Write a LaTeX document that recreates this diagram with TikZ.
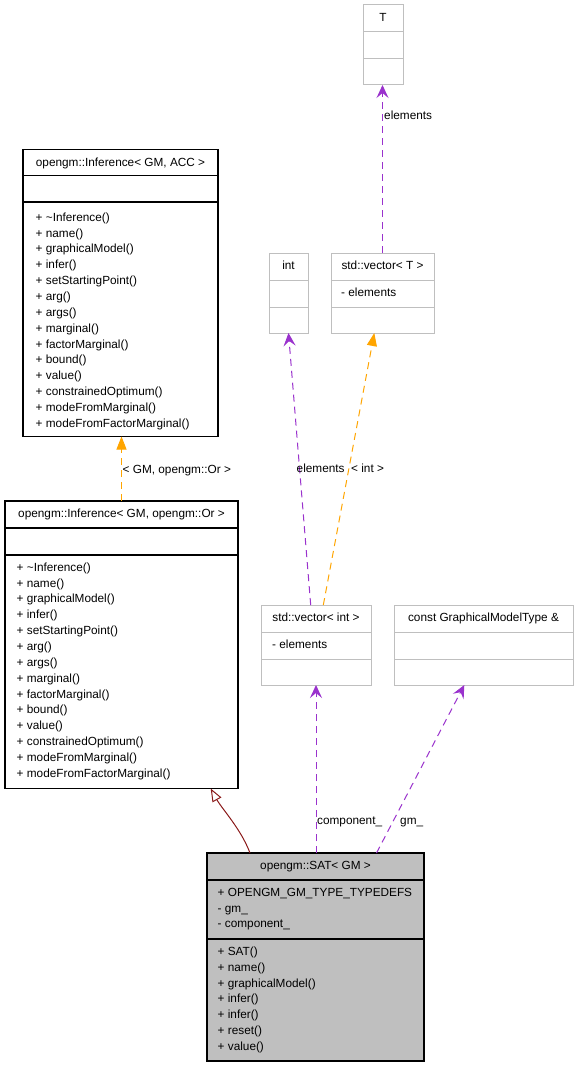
\documentclass[tikz,border=0pt]{standalone}
\usepackage{fontspec}
\setmainfont{Liberation Sans}
\usetikzlibrary{arrows.meta}
\definecolor{gbord}{HTML}{BFBFBF}
\definecolor{satfill}{HTML}{BFBFBF}
\definecolor{usepurple}{HTML}{9A32CD}
\definecolor{tmplorange}{HTML}{FFA500}
\definecolor{inhred}{HTML}{8B1A1A}
\begin{document}
\begin{tikzpicture}[x=1pt,y=-1pt,
  blackbox/.style={draw=black, line width=1.3pt, inner sep=0pt, outer sep=0pt, anchor=north west},
  graybox/.style={draw=gbord, line width=1pt, inner sep=0pt, outer sep=0pt, anchor=north west},
  bdiv/.style={draw=black, line width=1.3pt},
  gdiv/.style={draw=gbord, line width=1pt},
  txt/.style={font=\fontsize{11.8}{14}\selectfont, inner sep=0pt, anchor=base west},
  ttl/.style={font=\fontsize{11.8}{14}\selectfont, inner sep=0pt, anchor=base},
  usage/.style={draw=usepurple, line width=1pt, dash pattern=on 7pt off 5pt, -{Stealth[length=13pt,width=12pt,inset=5pt]}},
  tmpl/.style={draw=tmplorange, line width=1pt, dash pattern=on 7pt off 5pt, -{Triangle[length=13pt,width=10pt]}},
  inh/.style={draw=inhred, line width=1pt, -{Triangle[open,length=13pt,width=10pt,fill=white]}},
  lbl/.style={font=\fontsize{11.8}{14}\selectfont, inner sep=0pt, anchor=base west}
]
\fill[white] (0,0) rectangle (579,1067);
\useasboundingbox (0,0) rectangle (579,1067);

% ---------- opengm::Inference< GM, ACC >
\node[blackbox, minimum width=195pt, minimum height=287pt] (acc) at (23,149.5) {};
\draw[bdiv] (23,175.5) -- (218,175.5);
\draw[bdiv] (23,202) -- (218,202);
\node[ttl] at (120.5,166.5) {opengm::Inference< GM, ACC >};
\foreach \m [count=\i from 0] in {\textasciitilde Inference(), name(), graphicalModel(), infer(), setStartingPoint(), arg(), args(), marginal(), factorMarginal(), bound(), value(), constrainedOptimum(), modeFromMarginal(), modeFromFactorMarginal()}
  \node[txt] at (35.5,221.2+15.85*\i) {+ \m};

% ---------- opengm::Inference< GM, opengm::Or >
\node[blackbox, minimum width=233pt, minimum height=287.5pt] (orb) at (5,501) {};
\draw[bdiv] (5,528) -- (238,528);
\draw[bdiv] (5,555) -- (238,555);
\node[ttl] at (121.5,517.7) {opengm::Inference< GM, opengm::Or >};
\foreach \m [count=\i from 0] in {\textasciitilde Inference(), name(), graphicalModel(), infer(), setStartingPoint(), arg(), args(), marginal(), factorMarginal(), bound(), value(), constrainedOptimum(), modeFromMarginal(), modeFromFactorMarginal()}
  \node[txt] at (16.5,571.2+15.85*\i) {+ \m};

% ---------- opengm::SAT< GM >
\node[blackbox, fill=satfill, minimum width=217pt, minimum height=208pt] (sat) at (207,853) {};
\draw[bdiv] (207,880) -- (424,880);
\draw[bdiv] (207,939) -- (424,939);
\node[ttl] at (315.5,869.5) {opengm::SAT< GM >};
\node[txt] at (217.5,896.2) {+ OPENGM\_GM\_TYPE\_TYPEDEFS};
\node[txt] at (217.5,912) {- gm\_};
\node[txt] at (217.5,927.8) {- component\_};
\foreach \m [count=\i from 0] in {SAT(), name(), graphicalModel(), infer(), infer(), reset(), value()}
  \node[txt] at (217.5,955.2+15.9*\i) {+ \m};

% ---------- T
\node[graybox, minimum width=40pt, minimum height=80pt] (tbox) at (363,5) {};
\draw[gdiv] (363,32) -- (403,32);
\draw[gdiv] (363,59) -- (403,59);
\node[ttl] at (383,21.5) {T};

% ---------- int
\node[graybox, minimum width=39pt, minimum height=80pt] (intb) at (269,253) {};
\draw[gdiv] (269,280) -- (308,280);
\draw[gdiv] (269,307) -- (308,307);
\node[ttl] at (288.5,269.7) {int};

% ---------- std::vector< T >
\node[graybox, minimum width=103pt, minimum height=80pt] (vect) at (331,253) {};
\draw[gdiv] (331,280) -- (434,280);
\draw[gdiv] (331,307) -- (434,307);
\node[ttl] at (382.5,269.7) {std::vector< T >};
\node[txt] at (341,296.4) {- elements};

% ---------- std::vector< int >
\node[graybox, minimum width=110pt, minimum height=80pt] (veci) at (261,605) {};
\draw[gdiv] (261,632) -- (371,632);
\draw[gdiv] (261,659) -- (371,659);
\node[ttl] at (316,621.7) {std::vector< int >};
\node[txt] at (272,648.2) {- elements};

% ---------- const GraphicalModelType &
\node[graybox, minimum width=179pt, minimum height=80pt] (gmt) at (394,605) {};
\draw[gdiv] (394,632) -- (573,632);
\draw[gdiv] (394,659) -- (573,659);
\node[ttl] at (483.5,621.7) {const GraphicalModelType \&};

% ---------- connectors
\draw[usage] (vect.north) -- (vect.north |- tbox.south);
\node[lbl] at (384,119.2) {elements};

\draw[usage] ([xshift=-5.3pt]veci.north) -- (intb.south);
\node[lbl] at (296.5,472.2) {elements};

\draw[tmpl] ([xshift=7.3pt]veci.north) -- ([xshift=-8.2pt]vect.south);
\node[lbl] at (351,472.2) {< int >};

\draw[tmpl] (orb.north) -- (orb.north |- acc.south);
\node[lbl] at (122.5,473.2) {< GM, opengm::Or >};

\draw[inh] ([xshift=43pt]sat.north west) .. controls +(-9,-24) and +(11,20) .. ([xshift=89.2pt]orb.south);

\draw[usage] (veci.south |- sat.north) -- (veci.south);
\node[lbl] at (317,824.2) {component\_};

\draw[usage] ([xshift=61pt]sat.north) -- ([xshift=-19.2pt]gmt.south);
\node[lbl] at (400,824.2) {gm\_};
\end{tikzpicture}
\end{document}
